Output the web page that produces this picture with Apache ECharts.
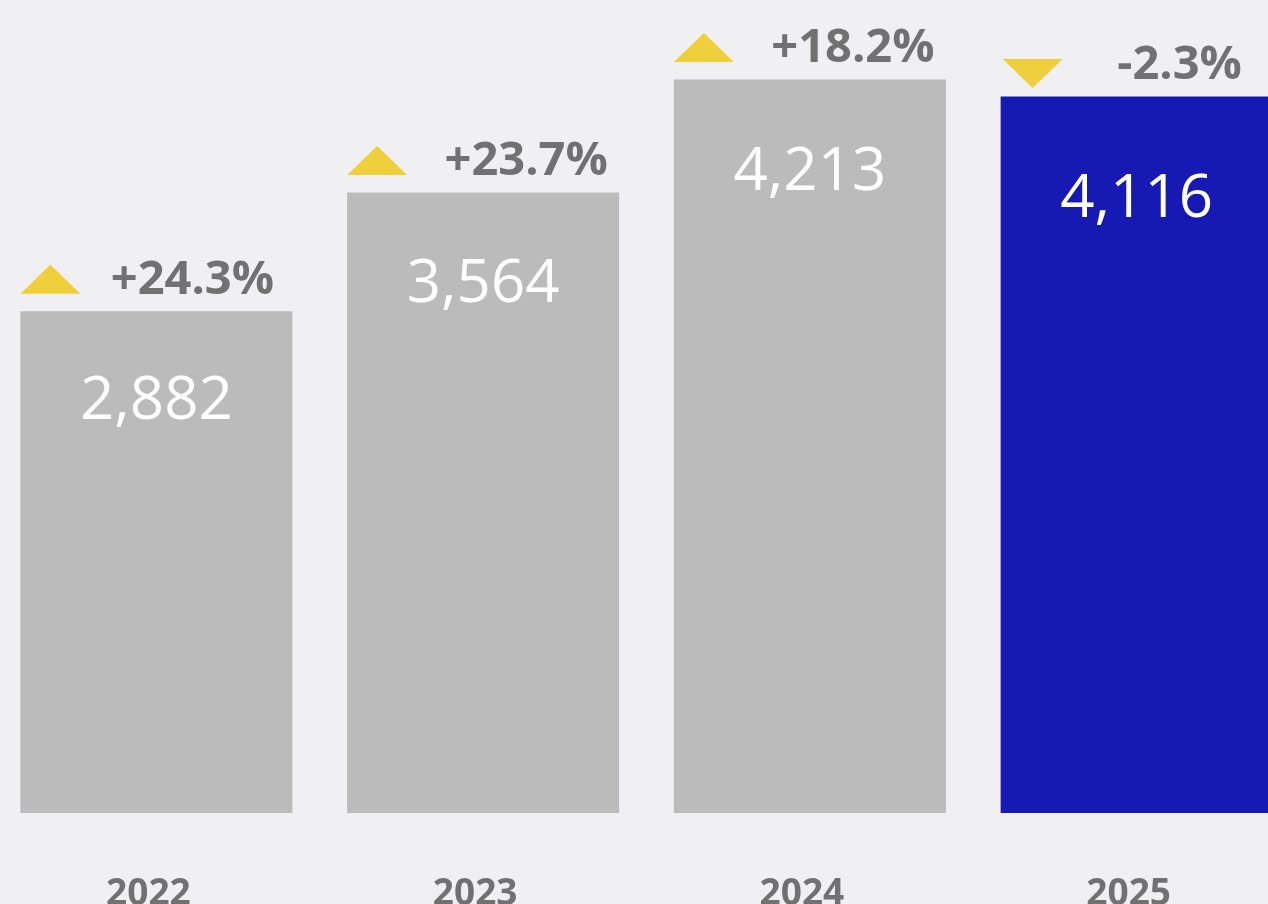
<!DOCTYPE html>
<html>
<head>
<meta charset="utf-8">
<script src="https://cdn.jsdelivr.net/npm/echarts@6/dist/echarts.min.js"></script>
<style>
html,body{margin:0;padding:0;background:#f0f0f3;}
#chart{width:1268px;height:904px;}
</style>
</head>
<body>
<div id="chart"></div>
<script>
const categories = ['2022', '2023', '2024', '2025'];
const values = [2882, 3564, 4213, 4116];
const changes = [24.3, 23.7, 18.2, -2.3];

const gray = '#bbbbbb';
const blue = '#161ab3';
const yellow = '#f0cf3c';
const textGray = '#717171';
const font = 'Open Sans';
const labelDistances = [61, 62, 63, 73];

const chart = echarts.init(document.getElementById('chart'));
chart.setOption({
  backgroundColor: '#f0f0f3',
  animation: false,
  grid: { left: -7, width: 1307, top: 0, bottom: 91, containLabel: false, outerBoundsMode: 'none' },
  xAxis: {
    type: 'category',
    data: categories,
    axisLine: { show: false },
    axisTick: { show: false },
    axisLabel: { color: textGray, fontFamily: font, fontWeight: 'bold', fontSize: 37, margin: 63, padding: [0, 16, 0, 0] }
  },
  yAxis: { type: 'value', min: 0, max: 4670, show: false, splitLine: { show: false } },
  series: [
    {
      type: 'bar',
      barWidth: 272,
      data: values.map((v, i) => ({
        value: v,
        itemStyle: { color: i === values.length - 1 ? blue : gray },
        label: { distance: labelDistances[i] }
      })),
      label: {
        show: true,
        position: 'insideTop',
        color: '#ffffff',
        fontFamily: font,
        fontSize: 60,
        lineHeight: 60,
        formatter: p => p.value.toLocaleString('en-US')
      }
    },
    {
      type: 'scatter',
      data: values.map((v, i) => ({
        value: [categories[i], v],
        symbol: 'triangle',
        symbolRotate: changes[i] < 0 ? 180 : 0,
        symbolOffset: changes[i] < 0 ? [-104, -23] : [-106, -32],
        itemStyle: { color: yellow, opacity: 1 }
      })),
      symbolSize: [60, 29],
      silent: true,
      z: 5
    },
    {
      type: 'scatter',
      data: values.map((v, i) => ({
        value: [categories[i], v],
        label: { offset: i === 0 ? [36, -31] : [43, -31] }
      })),
      symbolSize: 0,
      itemStyle: { opacity: 1 },
      silent: true,
      z: 6,
      label: {
        show: true,
        position: 'inside',
        color: textGray,
        opacity: 1,
        fontFamily: font,
        fontWeight: 'bold',
        fontSize: 47,
        formatter: p => {
          const c = changes[p.dataIndex];
          return (c > 0 ? '+' : '') + c.toFixed(1) + '%';
        }
      }
    }
  ]
});
</script>
</body>
</html>
